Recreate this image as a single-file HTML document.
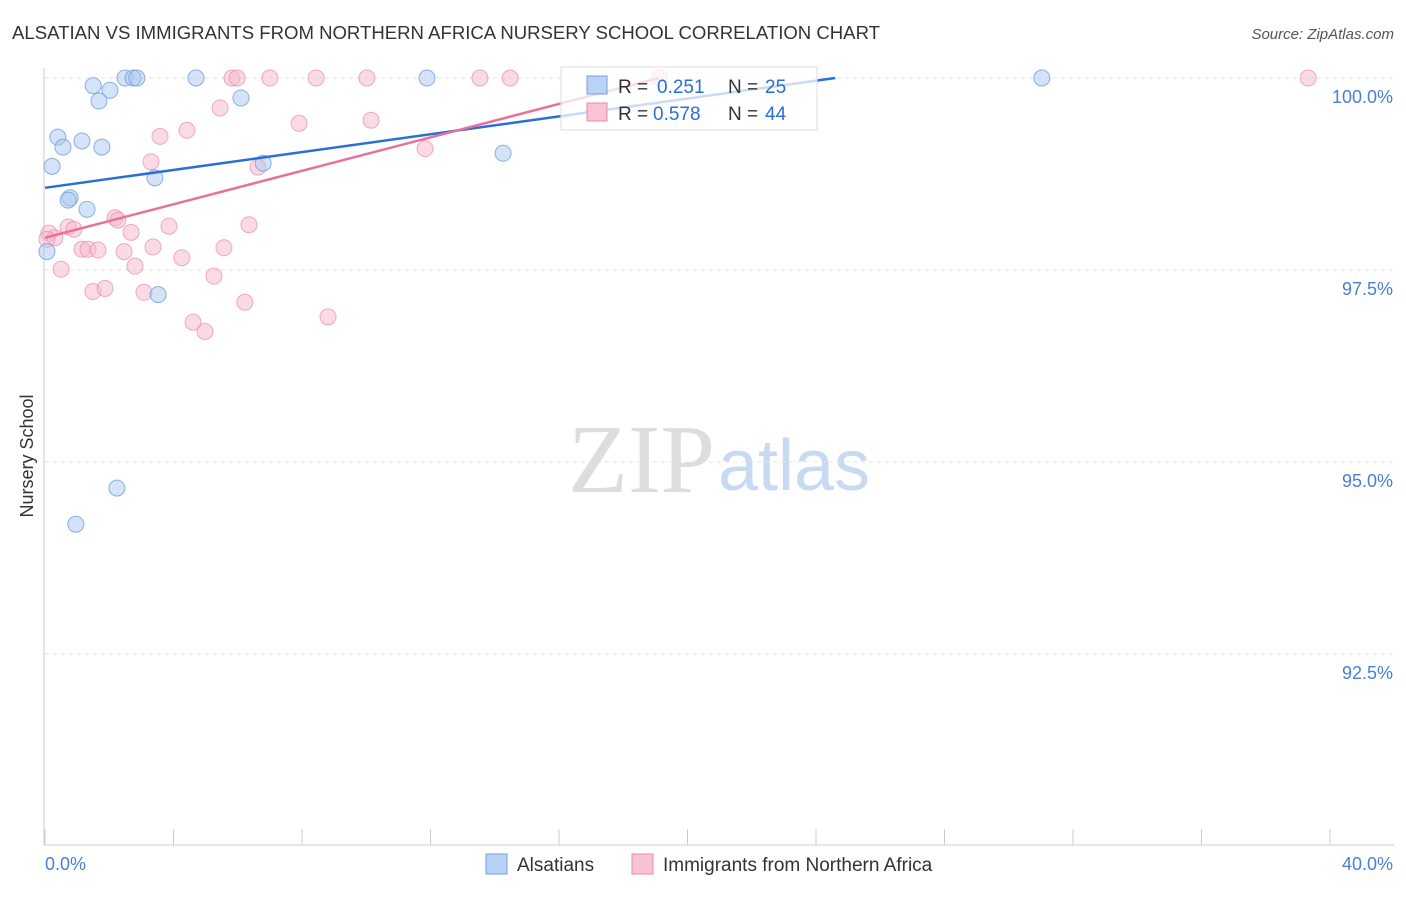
<!DOCTYPE html>
<html><head><meta charset="utf-8"><style>
body{margin:0;background:#fff;font-family:"Liberation Sans",sans-serif;}
</style></head><body>
<svg id="c" width="1406" height="892" xmlns="http://www.w3.org/2000/svg">
<text x="12" y="39" font-size="18" fill="#333" textLength="868" lengthAdjust="spacingAndGlyphs">ALSATIAN VS IMMIGRANTS FROM NORTHERN AFRICA NURSERY SCHOOL CORRELATION CHART</text>
<text x="1394" y="39" font-size="15" fill="#555" font-style="italic" text-anchor="end">Source: ZipAtlas.com</text>
<text x="33" y="456" font-size="18" fill="#333" text-anchor="middle" transform="rotate(-90 33 456)">Nursery School</text>
<text x="715" y="492" font-size="98" fill="#ddd" text-anchor="end" font-family="Liberation Serif,serif">ZIP</text>
<text x="718" y="490" font-size="72" fill="#c8daf2">atlas</text>
<g id="grid"></g><g id="pts"></g><g id="lines"></g>
<g>
<rect x="561" y="67" width="256" height="63" fill="#fff" fill-opacity="0.75" stroke="#ddd"/>
<rect x="587" y="76" width="20" height="18" fill="#b8d3f5" stroke="#6f9fe0"/>
<text x="618" y="93" font-size="19" fill="#333">R =</text>
<text x="657" y="93" font-size="19" fill="#2a6fd6">0.251</text>
<text x="728" y="93" font-size="19" fill="#333">N =</text>
<text x="765" y="93" font-size="19" fill="#2a6fd6">25</text>
<rect x="587" y="103" width="20" height="18" fill="#f8c4d4" stroke="#e88aa8"/>
<text x="618" y="120" font-size="19" fill="#333">R =</text>
<text x="653" y="120" font-size="19" fill="#2a6fd6">0.578</text>
<text x="728" y="120" font-size="19" fill="#333">N =</text>
<text x="765" y="120" font-size="19" fill="#2a6fd6">44</text>
</g>
<g>
<rect x="486" y="854" width="21" height="20" fill="#b8d3f5" stroke="#6f9fe0"/>
<text x="517" y="871" font-size="19" fill="#333">Alsatians</text>
<rect x="632" y="854" width="21" height="20" fill="#f8c4d4" stroke="#e88aa8"/>
<text x="663" y="871" font-size="19" fill="#333">Immigrants from Northern Africa</text>
</g>
</svg>
<script>
const xTicks=[0,4,8,12,16,20,24,28,32,36,40];
const yTicks=[100,97.5,95,92.5];
const yTickLabels=["100.0%","97.5%","95.0%","92.5%"];
const blueX=[1.50,2.49,2.74,2.86,4.70,2.02,1.68,6.10,11.89,31.03,0.40,0.56,1.15,1.77,0.22,6.79,3.42,14.26,0.78,0.72,1.31,0.06,3.52,2.24,0.96];
const blueY=[99.90,100,100,100,100,99.84,99.70,99.74,100,100,99.23,99.10,99.18,99.10,98.85,98.89,98.70,99.02,98.44,98.41,98.29,97.74,97.18,94.66,94.19];
const pinkX=[5.82,5.98,7.00,8.44,10.02,13.54,14.48,19.14,39.32,5.45,7.91,10.15,4.42,3.58,11.83,3.30,6.63,0.12,0.31,0.72,0.90,2.18,2.27,2.68,3.86,6.35,1.15,1.34,1.65,2.46,3.36,5.57,4.26,2.80,0.50,5.26,1.49,1.87,3.08,6.22,4.61,4.98,8.81,0.06];
const pinkY=[100,100,100,100,100,100,100,100,100,99.61,99.41,99.45,99.32,99.24,99.08,98.91,98.84,97.98,97.92,98.06,98.03,98.18,98.15,97.99,98.07,98.09,97.77,97.77,97.76,97.74,97.80,97.79,97.66,97.55,97.51,97.42,97.22,97.26,97.21,97.08,96.82,96.70,96.89,97.90];
const blueLine=[[0,98.57],[24.6,100]];
const pinkLine=[[0,97.92],[19.1,100]];
const X=v=>45+v/40*1285, Y=v=>78+(100-v)/2.5*192;
const NS="http://www.w3.org/2000/svg";
function mk(t,a,p){const e=document.createElementNS(NS,t);for(const k in a)e.setAttribute(k,a[k]);p.appendChild(e);return e;}
const g=document.getElementById('grid');
const ax=mk('line',{x1:44,y1:68,x2:44,y2:845,stroke:'#ccc'},g);


const bx=mk('line',{x1:44,y1:845,x2:1394,y2:845,stroke:'#ccc'},g);


xTicks.forEach(t=>{const l=mk('line',{x1:X(t),y1:829,x2:X(t),y2:845,stroke:'#ccc'},g);

});
yTicks.forEach((t,i)=>{const l=mk('line',{x1:45,y1:Y(t),x2:1394,y2:Y(t),stroke:'#e3e3e3','stroke-dasharray':'4 4'},g);


const tx=mk('text',{x:1393,y:Y(t)+25,'font-size':18,fill:'#4a7fd6','text-anchor':'end'},g);tx.textContent=yTickLabels[i];

});
const x0=mk('text',{x:45,y:870,'font-size':18,fill:'#4a7fd6'},g);x0.textContent='0.0%';


const x1=mk('text',{x:1393,y:870,'font-size':18,fill:'#4a7fd6','text-anchor':'end'},g);x1.textContent='40.0%';


const P=document.getElementById('pts');
pinkX.forEach((x,i)=>{const c=mk('circle',{cx:X(x),cy:Y(pinkY[i]),r:8,fill:'#f5b8cb','fill-opacity':0.5,stroke:'#e88aa8','stroke-opacity':0.7},P);

});
blueX.forEach((x,i)=>{const c=mk('circle',{cx:X(x),cy:Y(blueY[i]),r:8,fill:'#a9c8f0','fill-opacity':0.5,stroke:'#6f9fe0','stroke-opacity':0.8},P);

});
const L=document.getElementById('lines');
const lb=mk('line',{x1:X(blueLine[0][0]),y1:Y(blueLine[0][1]),x2:X(blueLine[1][0]),y2:Y(blueLine[1][1]),stroke:'#2a6fd6','stroke-width':2.5},L);


const lp=mk('line',{x1:X(pinkLine[0][0]),y1:Y(pinkLine[0][1]),x2:X(pinkLine[1][0]),y2:Y(pinkLine[1][1]),stroke:'#e8719a','stroke-width':2.5},L);


</script>
</body></html>
